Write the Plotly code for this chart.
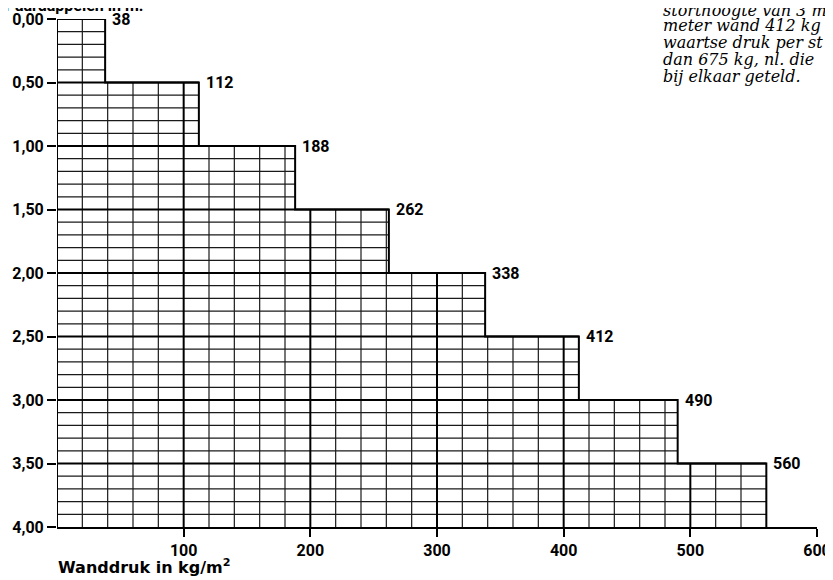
import plotly.graph_objects as go

# ---- data ----
band_tops = [0.0, 0.5, 1.0, 1.5, 2.0, 2.5, 3.0, 3.5]      # depth (m) at top of each band
band_bottoms = [0.5, 1.0, 1.5, 2.0, 2.5, 3.0, 3.5, 4.0]
pressures = [38, 112, 188, 262, 338, 412, 490, 560]        # wall pressure kg/m2
pressure_labels = ["38", "112", "188", "262", "338", "412", "490", "560"]
y_tickvals = [0.0, 0.5, 1.0, 1.5, 2.0, 2.5, 3.0, 3.5, 4.0]
y_ticktext = ["0,00", "0,50", "1,00", "1,50", "2,00", "2,50", "3,00", "3,50", "4,00"]
x_tickvals = [100, 200, 300, 400, 500, 600]
x_ticktext = ["100", "200", "300", "400", "500", "600"]
note_lines = ["storthoogte van 3 m", "meter wand 412 kg", "waartse druk per st",
              "dan 675 kg, nl. die", "bij elkaar geteld."]
y_title = "Diepte onder de bovenkant der aardappelen in m."
x_title = "Wanddruk in kg/m<sup>2</sup>"

# grid cell size (style)
dx = 20
dy = 0.1
depth_max = 4.0

# ---- build grid lines from data ----
minor_x, minor_y = [], []
major_x, major_y = [], []

n_sub = int(round(0.5 / dy))
for top, bot, p in zip(band_tops, band_bottoms, pressures):
    major_x += [0, p, None]
    major_y += [top, top, None]
    for k in range(1, n_sub):
        d = top + k * dy
        minor_x += [0, p, None]
        minor_y += [d, d, None]

xv = 0
while xv < max(pressures):
    start = None
    for top, p in zip(band_tops, pressures):
        if p > xv:
            start = top
            break
    if xv % 100 == 0:
        major_x += [xv, xv, None]
        major_y += [start, depth_max, None]
    else:
        minor_x += [xv, xv, None]
        minor_y += [start, depth_max, None]
    xv += dx

out_x, out_y = [0], [band_tops[0]]
for top, bot, p in zip(band_tops, band_bottoms, pressures):
    out_x += [p, p]
    out_y += [top, bot]

fig = go.Figure()
fig.add_trace(go.Scatter(x=minor_x, y=minor_y, mode="lines",
                         line=dict(color="#1a1a1a", width=1.2), hoverinfo="skip"))
fig.add_trace(go.Scatter(x=major_x, y=major_y, mode="lines",
                         line=dict(color="black", width=2.0), hoverinfo="skip"))
fig.add_trace(go.Scatter(x=out_x, y=out_y, mode="lines",
                         line=dict(color="black", width=2.0), hoverinfo="skip"))

font_main = dict(family="Roboto", size=16, color="black", weight="bold")

annotations = []
for top, p, lab in zip(band_tops, pressures, pressure_labels):
    annotations.append(dict(x=p, y=top, xref="x", yref="y", text=lab, showarrow=False,
                            xanchor="left", yanchor="middle", xshift=5, font=font_main))

# cut-off axis title at top-left
annotations.append(dict(x=0, y=1, xref="paper", yref="paper", text=y_title, showarrow=False,
                        xanchor="right", yanchor="middle", xshift=88, yshift=14,
                        font=font_main))
# x axis title
annotations.append(dict(x=0, y=0, xref="paper", yref="paper", text=x_title, showarrow=False,
                        xanchor="left", yanchor="middle", xshift=-1, yshift=-39,
                        font=dict(family="DejaVu Sans", size=16, color="black", weight="bold")))
# italic note, top right (cut off)
note_centers = [9, -6, -23, -40, -57]
for line, ys in zip(note_lines, note_centers):
    annotations.append(dict(x=0.795, y=1, xref="paper", yref="paper", text=line,
                            showarrow=False, xanchor="left", yanchor="middle", yshift=ys,
                            font=dict(family="DejaVu Serif", size=16, color="black",
                                      style="italic")))

fig.update_layout(
    width=833, height=580,
    margin=dict(l=49, r=24, t=11, b=61),
    paper_bgcolor="white", plot_bgcolor="white",
    showlegend=False,
    annotations=annotations,
    xaxis=dict(range=[0, 600], tickvals=x_tickvals, ticktext=x_ticktext, automargin=False,
               showgrid=False, zeroline=False, showline=True, linecolor="black",
               linewidth=2, ticks="outside", ticklen=8, tickwidth=2, tickcolor="black",
               tickfont=font_main),
    yaxis=dict(range=[depth_max, 0], tickvals=y_tickvals, ticktext=y_ticktext, automargin=False,
               showgrid=False, zeroline=False, showline=False,
               ticks="outside", ticklen=9, tickwidth=2, tickcolor="black",
               tickfont=font_main),
)

fig.write_html("out.html")
